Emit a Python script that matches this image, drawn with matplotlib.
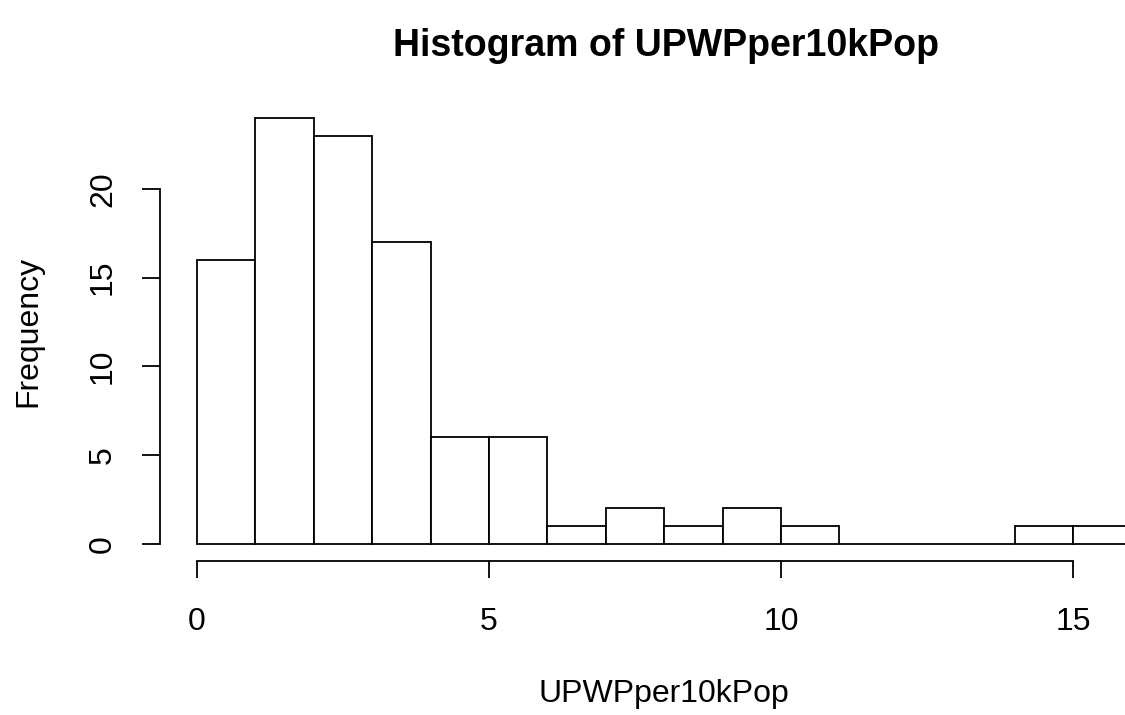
import matplotlib.pyplot as plt
import numpy as np

plt.rcParams['font.family'] = ['Liberation Sans', 'DejaVu Sans']

# histogram of UPWPper10kPop, unit-width bins
bin_edges = np.arange(0, 17)
counts = [16, 24, 23, 17, 6, 6, 1, 2, 1, 2, 1, 0, 0, 0, 1, 1]

fig = plt.figure(figsize=(11.25, 7.15), dpi=100)
ax = fig.add_axes([0.1419, 0.2154, 0.8581, 0.6434])

ax.bar(bin_edges[:-1], counts, width=np.diff(bin_edges), align='edge',
       color='white', edgecolor='black', linewidth=1.3)

ax.set_xlim(-0.64, 15.89)
ax.set_ylim(-0.96, 24.96)

for s in ['top', 'right']:
    ax.spines[s].set_visible(False)
ax.spines['left'].set_bounds(0, 20)
ax.spines['bottom'].set_bounds(0, 15)
for s in ['left', 'bottom']:
    ax.spines[s].set_linewidth(1.3)

ax.set_xticks([0, 5, 10, 15])
ax.set_yticks([0, 5, 10, 15, 20])
ax.tick_params(axis='x', length=12, width=1.3, pad=21, labelsize=23)
ax.tick_params(axis='y', length=13, width=1.3, pad=17, labelsize=23)
for lab in ax.get_yticklabels():
    lab.set_rotation(90)
    lab.set_va('center')

fig.text(0.592, 0.935, 'Histogram of UPWPper10kPop', ha='center', va='center',
         fontsize=27, fontweight='bold')
fig.text(0.590, 0.03, 'UPWPper10kPop', ha='center', va='center', fontsize=23)
fig.text(0.025, 0.537, 'Frequency', ha='center', va='center', fontsize=23,
         rotation=90)

fig.savefig('out.png', dpi=100)
